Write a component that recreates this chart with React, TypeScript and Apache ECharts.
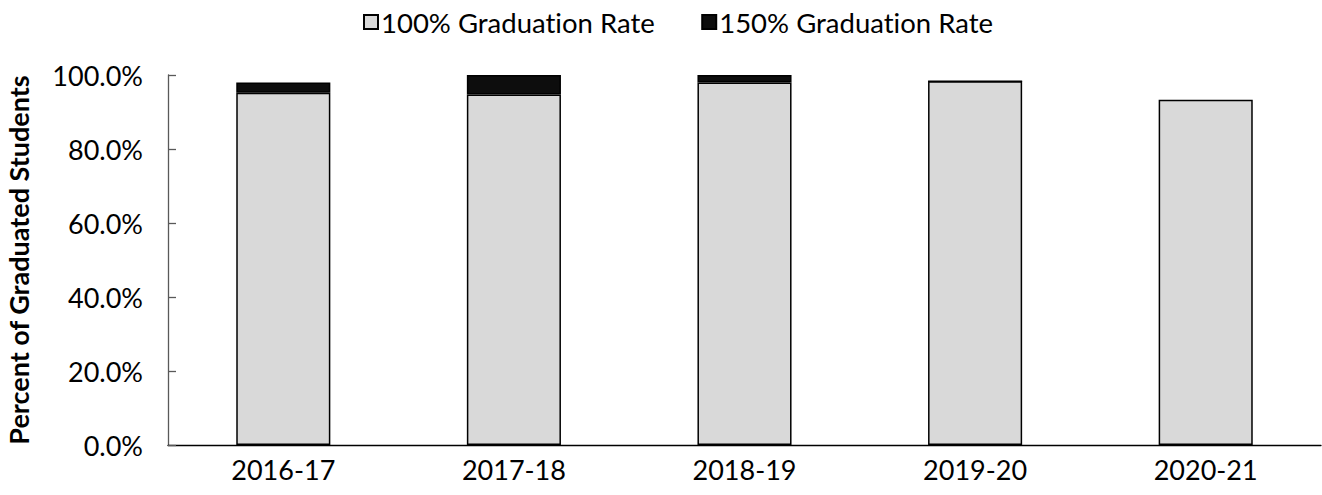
import React, { useEffect, useRef } from "react";
import * as echarts from "echarts";

const categories = ["2016-17", "2017-18", "2018-19", "2019-20", "2020-21"];
const rate100 = [95.2, 94.7, 98.0, 98.3, 93.3];
const rate150: (number | null)[] = [2.8, 5.3, 2.0, 0, null];
const seriesNames = ["100% Graduation Rate", "150% Graduation Rate"];
const yTicks = { min: 0, max: 100, interval: 20 };
const yAxisTitle = "Percent of Graduated Students";

const FONT = "Lato, 'Open Sans', sans-serif";

export default function App() {
  const ref = useRef<HTMLDivElement>(null);
  useEffect(() => {
    if (!ref.current) return;
    const chart = echarts.init(ref.current, undefined, { renderer: "svg" });
    chart.setOption({
      animation: false,
      textStyle: { fontFamily: FONT },
      legend: {
        top: 3,
        left: 358,
        itemWidth: 14,
        itemHeight: 14,
        itemGap: 46,
        icon: "rect",
        textStyle: { fontFamily: FONT, fontSize: 27.5, color: "#000", padding: [0, 0, 0, -2] },
        data: seriesNames,
      },
      grid: {
        left: 168,
        right: 1,
        top: 75,
        bottom: 50,
        containLabel: false,
        outerBoundsMode: "none",
      },
      xAxis: {
        type: "category",
        data: categories,
        axisLine: { show: true, lineStyle: { color: "#000", width: 1.3 } },
        axisTick: { show: false },
        axisLabel: { fontFamily: FONT, fontSize: 27, color: "#000", margin: 11 },
      },
      yAxis: {
        type: "value",
        min: yTicks.min,
        max: yTicks.max,
        interval: yTicks.interval,
        name: yAxisTitle,
        nameLocation: "middle",
        nameGap: 136,
        nameTextStyle: { fontFamily: FONT, fontSize: 27, fontWeight: "bold", color: "#000" },
        axisLine: { show: true, lineStyle: { color: "#595959", width: 1.3 } },
        axisTick: { show: true, inside: true, length: 8, lineStyle: { color: "#595959", width: 1.3 } },
        splitLine: { show: false },
        axisLabel: {
          fontFamily: FONT,
          fontSize: 27,
          color: "#000",
          margin: 25,
          formatter: (v: number) => v.toFixed(1) + "%",
        },
      },
      series: [
        {
          name: seriesNames[0],
          type: "bar",
          stack: "total",
          barWidth: "40.8%",
          data: rate100,
          itemStyle: { color: "#d9d9d9", borderColor: "#000", borderWidth: 1.5 },
        },
        {
          name: seriesNames[1],
          type: "bar",
          stack: "total",
          barWidth: "40.8%",
          data: rate150,
          itemStyle: { color: "#0d0d0d", borderColor: "#000", borderWidth: 1.5 },
        },
      ],
    });
    return () => chart.dispose();
  }, []);
  return (
    <>
      <style>{"svg text { font-variant-ligatures: none; font-feature-settings: 'liga' 0; }"}</style>
      <div
        ref={ref}
        style={{ position: "absolute", left: 0, top: 0, width: 1322, height: 495 }}
      />
    </>
  );
}
